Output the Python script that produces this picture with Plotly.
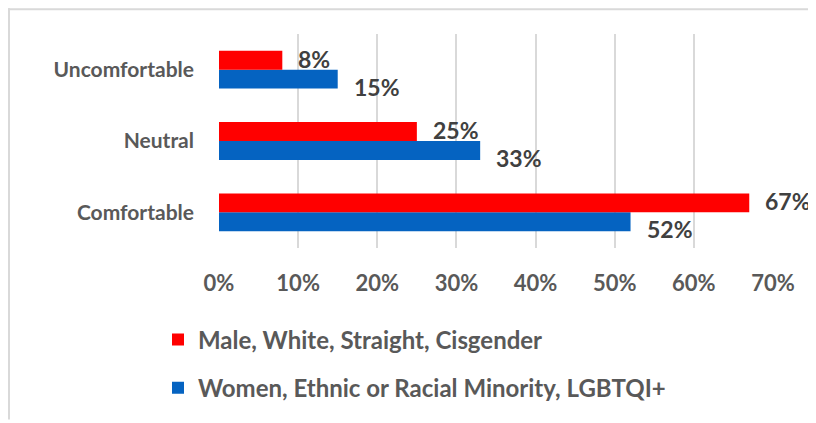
import plotly.graph_objects as go

categorie = ['Comfortable', 'Neutral', 'Uncomfortable']
serie_rossa_nome = 'Male, White, Straight, Cisgender'
serie_blu_nome = 'Women, Ethnic or Racial Minority, LGBTQI+'
valori_rossi = [0.67, 0.25, 0.08]
valori_blu = [0.52, 0.33, 0.15]
tick_valori = [0, 0.1, 0.2, 0.3, 0.4, 0.5, 0.6, 0.7]
tick_testi = ['0%', '10%', '20%', '30%', '40%', '50%', '60%', '70%']

ROSSO = '#FF0000'
BLU = '#0563C1'
GRIGIO_TESTO = '#595959'
GRIGIO_LABEL = '#404040'
FONT = 'Lato'

# la pagina ha 8px di margine del body: la figura parte da (8, 8)
W, H = 808, 415
M_L, M_R, M_T, M_B = 211, 43, 26, 173
pw = W - M_L - M_R
ph = H - M_T - M_B

fig = go.Figure()

# blu prima: in orizzontale la prima traccia finisce in basso nel gruppo
fig.add_trace(go.Bar(
    y=categorie, x=valori_blu, orientation='h', name=serie_blu_nome,
    marker=dict(color=BLU, line=dict(width=0)), legendgroup='g2', legendrank=2
))
fig.add_trace(go.Bar(
    y=categorie, x=valori_rossi, orientation='h', name=serie_rossa_nome,
    marker=dict(color=ROSSO, line=dict(width=0)), legendgroup='g1', legendrank=1
))

# etichette dati
for cat, v in zip(categorie, valori_rossi):
    fig.add_annotation(x=v, y=cat, text=f'{round(v * 100)}%', showarrow=False,
                       xanchor='left', xshift=14, yshift=11,
                       font=dict(family=FONT, size=23, color=GRIGIO_LABEL, weight='bold'))
for cat, v in zip(categorie, valori_blu):
    fig.add_annotation(x=v, y=cat, text=f'{round(v * 100)}%', showarrow=False,
                       xanchor='left', xshift=14, yshift=-17,
                       font=dict(family=FONT, size=23, color=GRIGIO_LABEL, weight='bold'))

# cornice grigia attorno al grafico
def px_x(p):
    return (p - M_L) / pw

def px_y(p):
    return 1 - (p - M_T) / ph

fig.add_shape(type='line', xref='paper', yref='paper',
              x0=px_x(0), x1=px_x(W), y0=px_y(1), y1=px_y(1),
              line=dict(color='#D9D9D9', width=2))
fig.add_shape(type='line', xref='paper', yref='paper',
              x0=px_x(1), x1=px_x(1), y0=px_y(0), y1=px_y(H),
              line=dict(color='#D9D9D9', width=2))

fig.update_layout(
    width=W, height=H,
    margin=dict(l=M_L, r=M_R, t=M_T, b=M_B),
    paper_bgcolor='white',
    plot_bgcolor='white',
    barmode='group',
    bargap=0.47,
    bargroupgap=0,
    font=dict(family=FONT, size=20, color=GRIGIO_TESTO, weight='bold'),
    xaxis=dict(
        range=[0, 0.7],
        tickvals=tick_valori,
        ticktext=tick_testi,
        showgrid=True,
        gridcolor='#D9D9D9',
        gridwidth=2,
        zeroline=False,
        showline=False,
        ticks='',
        ticklabelstandoff=20,
        tickfont=dict(family=FONT, size=22, color=GRIGIO_TESTO, weight='bold'),
        fixedrange=True
    ),
    yaxis=dict(
        showgrid=False,
        zeroline=False,
        showline=False,
        ticks='',
        ticklabelstandoff=24,
        tickfont=dict(family=FONT, size=21, color=GRIGIO_TESTO, weight='bold'),
        fixedrange=True
    ),
    legend=dict(
        orientation='v',
        x=px_x(150), xanchor='left',
        y=px_y(312), yanchor='top',
        traceorder='grouped',
        tracegroupgap=14,
        font=dict(family=FONT, size=24, color=GRIGIO_TESTO, weight='bold'),
        bgcolor='rgba(0,0,0,0)'
    ),
    showlegend=True
)

fig.write_html('out.html')
